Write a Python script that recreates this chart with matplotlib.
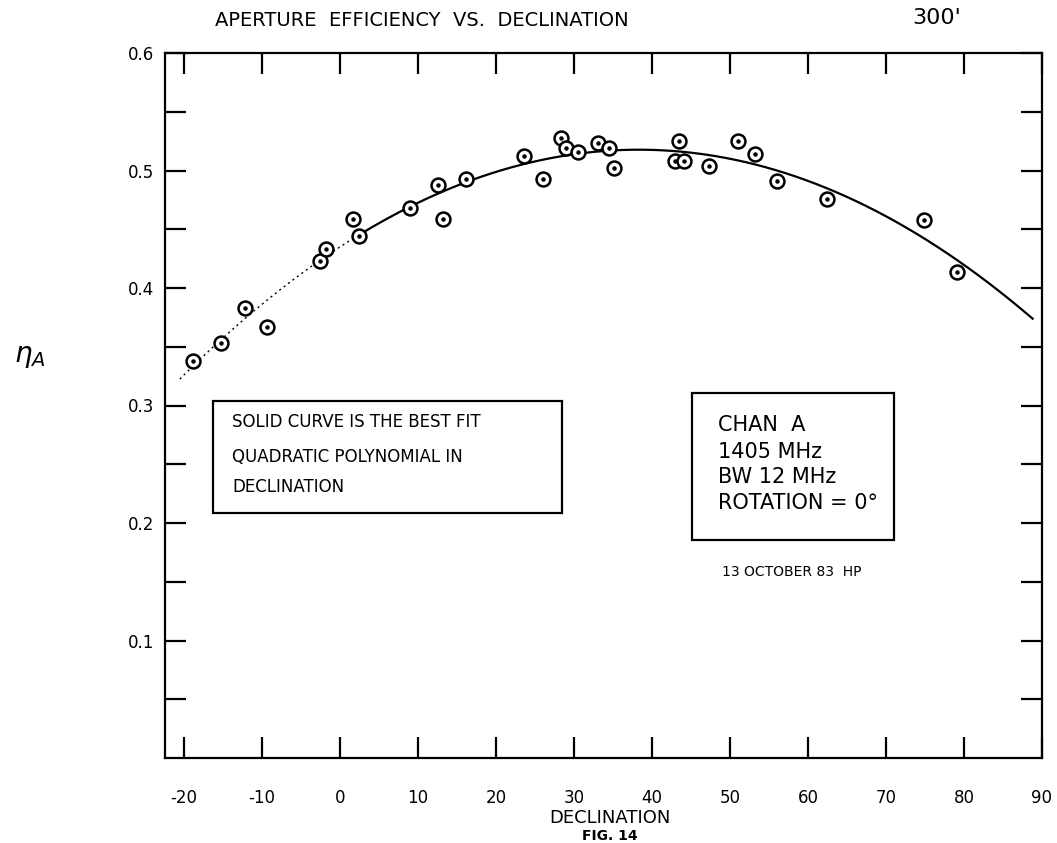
import numpy as np
import matplotlib
matplotlib.use('Agg')
import matplotlib.pyplot as plt

# declination (deg) and aperture efficiency
decl = [-18.8, -15.2, -12.2, -9.3, -2.5, -1.8, 1.7, 2.5, 9.0, 12.6,
        13.2, 16.2, 23.6, 26.0, 28.4, 29.0, 30.5, 33.1, 34.5, 35.1,
        42.9, 43.5, 44.1, 47.3, 51.0, 53.2, 56.1, 62.5, 74.9, 79.1]
eff = [0.338, 0.353, 0.383, 0.367, 0.423, 0.433, 0.459, 0.444, 0.468, 0.488,
       0.459, 0.493, 0.512, 0.493, 0.528, 0.519, 0.516, 0.523, 0.519, 0.502,
       0.508, 0.525, 0.508, 0.504, 0.525, 0.514, 0.491, 0.476, 0.458, 0.414]

# extent of the fitted curve, dotted part at the low end
curve_start, curve_solid, curve_end = -20.5, 2.5, 88.8

xticks = list(range(-20, 100, 10))
yticks = [0.05, 0.1, 0.15, 0.2, 0.25, 0.3, 0.35, 0.4, 0.45, 0.5, 0.55, 0.6]
ylabels = ['', '0.1', '', '0.2', '', '0.3', '', '0.4', '', '0.5', '', '0.6']

plt.rcParams['font.family'] = 'DejaVu Sans'

fig = plt.figure(figsize=(10.57, 8.43), dpi=100)
ax = fig.add_axes([165 / 1057, 1 - 758 / 843, (1042 - 165) / 1057, (758 - 53) / 843])

# best fit quadratic
coef = np.polyfit(decl, eff, 2)
xa = np.linspace(curve_start, curve_solid, 60)
xb = np.linspace(curve_solid, curve_end, 200)
ax.plot(xa, np.polyval(coef, xa), color='black', lw=1.0, ls=(0, (1.5, 2.5)))
ax.plot(xb, np.polyval(coef, xb), color='black', lw=1.6)

# circled-dot markers
ax.plot(decl, eff, ls='none', marker='o', ms=10, mfc='white', mec='black', mew=1.8)
ax.plot(decl, eff, ls='none', marker='o', ms=2.2, color='black')

ax.set_xlim(-22.4, 90)
ax.set_ylim(0, 0.6)
ax.set_xticks(xticks)
ax.set_xticklabels([str(t) for t in xticks], fontsize=12)
ax.set_yticks(yticks)
ax.set_yticklabels(ylabels, fontsize=12)
ax.tick_params(axis='both', direction='in', length=15, width=1.6,
               top=True, right=True)
ax.tick_params(axis='x', pad=22)
ax.tick_params(axis='y', pad=8)
for s in ax.spines.values():
    s.set_linewidth(1.6)

# titles and labels
fig.text(422 / 1057, 1 - 20 / 843, 'APERTURE  EFFICIENCY  VS.  DECLINATION',
         ha='center', va='center', fontsize=14)
fig.text(937 / 1057, 1 - 18 / 843, "300'", ha='center', va='center', fontsize=16)
fig.text(30 / 1057, 1 - 356 / 843, r'$\eta_A$', ha='center', va='center', fontsize=20)
fig.text(610 / 1057, 1 - 818 / 843, 'DECLINATION', ha='center', va='center', fontsize=13)
fig.text(610 / 1057, 1 - 836 / 843, 'FIG. 14', ha='center', va='center',
         fontsize=10, fontweight='bold')

# annotation boxes
ax.add_patch(plt.Rectangle((213 / 1057, 1 - 513 / 843), (562 - 213) / 1057, (513 - 401) / 843,
                           transform=fig.transFigure, fill=False, lw=1.6, clip_on=False))
for txt, yy in [('SOLID CURVE IS THE BEST FIT', 422),
                ('QUADRATIC POLYNOMIAL IN', 457),
                ('DECLINATION', 487)]:
    fig.text(232 / 1057, 1 - yy / 843, txt, ha='left', va='center', fontsize=12)

ax.add_patch(plt.Rectangle((692 / 1057, 1 - 540 / 843), (894 - 692) / 1057, (540 - 393) / 843,
                           transform=fig.transFigure, fill=False, lw=1.6, clip_on=False))
for txt, yy in [('CHAN  A', 425), ('1405 MHz', 452), ('BW 12 MHz', 477),
                ('ROTATION = 0°', 503)]:
    fig.text(718 / 1057, 1 - yy / 843, txt, ha='left', va='center', fontsize=15)
fig.text(722 / 1057, 1 - 572 / 843, '13 OCTOBER 83  HP', ha='left', va='center', fontsize=10)

fig.savefig('out.png', dpi=100)
